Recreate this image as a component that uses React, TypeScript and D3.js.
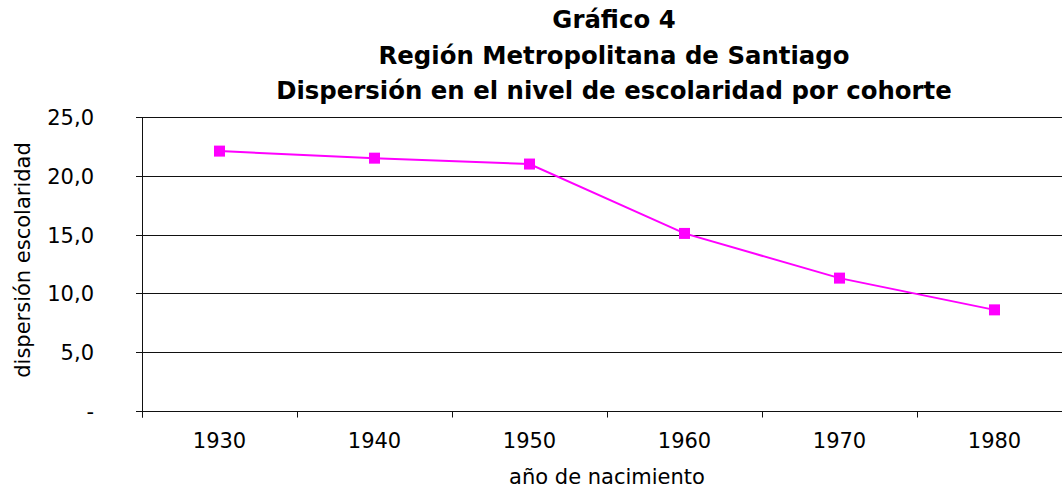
import * as d3 from "d3";

const years = ["1930", "1940", "1950", "1960", "1970", "1980"];
const dispersion = [22.1, 21.5, 21.0, 15.1, 11.3, 8.6];
const yTicks = [0, 5, 10, 15, 20, 25];
const titleLines = [
  "Gráfico 4",
  "Región Metropolitana de Santiago",
  "Dispersión en el nivel de escolaridad por cohorte",
];

const W = 1062;
const H = 489;
const margin = { left: 142, right: -10, top: 117, bottom: 78 };
const font = "Verdana, 'DejaVu Sans', sans-serif";

const fmt = (v: number) => (v === 0 ? "-" : d3.format(".1f")(v).replace(".", ","));

export default function App() {
  const x = d3
    .scaleBand<string>()
    .domain(years)
    .range([margin.left, W - margin.right]);
  const y = d3
    .scaleLinear()
    .domain([0, 25])
    .range([H - margin.bottom, margin.top]);

  const line = d3
    .line<number>()
    .x((_d, i) => (x(years[i]) ?? 0) + x.bandwidth() / 2)
    .y((d) => y(d));

  const y0 = Math.round(y(0)) + 0.5;
  const xTickPos = [...years.map((yr) => x(yr) ?? 0), x.range()[1]];

  return (
    <div style={{ position: "absolute", left: 0, top: 0 }}>
      <svg width={W} height={H} style={{ display: "block", background: "#fff" }}>
        {/* titles */}
        {titleLines.map((t, i) => (
          <text
            key={t}
            x={614}
            y={28 + i * 35.5}
            textAnchor="middle"
            fontFamily={font}
            fontWeight="bold"
            fontSize={24.4}
            fill="#000"
          >
            {t}
          </text>
        ))}

        {/* gridlines + y ticks */}
        {yTicks.map((v) => {
          const yy = Math.round(y(v)) + 0.5;
          return (
            <g key={v}>
              <line x1={margin.left - 6} x2={W} y1={yy} y2={yy} stroke="#111" strokeWidth={1} />
              <text
                x={94}
                y={yy}
                dy="0.35em"
                textAnchor="end"
                fontFamily={font}
                fontSize={21}
                fill="#000"
              >
                {fmt(v)}
              </text>
            </g>
          );
        })}

        {/* y axis line */}
        <line
          x1={margin.left + 0.5}
          x2={margin.left + 0.5}
          y1={Math.round(y(25))}
          y2={y0 + 6}
          stroke="#111"
        />

        {/* x ticks */}
        {xTickPos.map((p, i) => (
          <line key={i} x1={Math.round(p) + 0.5} x2={Math.round(p) + 0.5} y1={y0} y2={y0 + 6} stroke="#111" />
        ))}
        {years.map((yr) => (
          <text
            key={yr}
            x={(x(yr) ?? 0) + x.bandwidth() / 2}
            y={448}
            textAnchor="middle"
            fontFamily={font}
            fontSize={21}
            fill="#000"
          >
            {yr}
          </text>
        ))}

        {/* axis titles */}
        <text
          x={607}
          y={484}
          textAnchor="middle"
          fontFamily={font}
          fontSize={21}
          fill="#000"
        >
          año de nacimiento
        </text>
        <text
          transform="translate(30,260) rotate(-90)"
          textAnchor="middle"
          fontFamily={font}
          fontSize={21}
          fill="#000"
        >
          dispersión escolaridad
        </text>

        {/* series */}
        <path d={line(dispersion) ?? ""} fill="none" stroke="#ff00ff" strokeWidth={2} />
        {dispersion.map((d, i) => (
          <rect
            key={i}
            x={(x(years[i]) ?? 0) + x.bandwidth() / 2 - 5.5}
            y={y(d) - 5.5}
            width={11}
            height={11}
            fill="#ff00ff"
          />
        ))}
      </svg>
    </div>
  );
}
